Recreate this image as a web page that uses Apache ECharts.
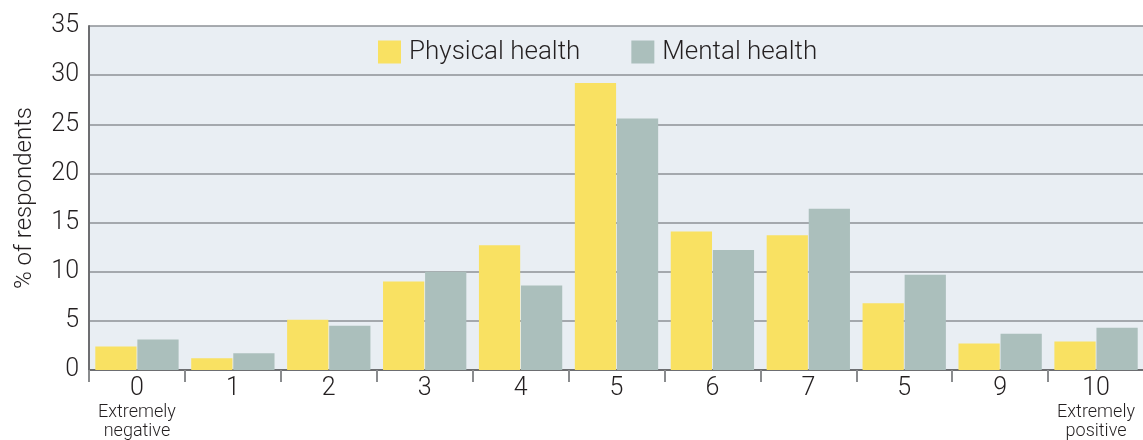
<!DOCTYPE html>
<html>
<head>
<meta charset="utf-8">
<title>Physical and mental health</title>
<script src="https://cdn.jsdelivr.net/npm/echarts@6/dist/echarts.min.js"></script>
<style>
  html, body { margin: 0; padding: 0; background: #fff; }
  #chart { width: 1143px; height: 440px; }
</style>
</head>
<body>
<div id="chart"></div>
<script>
// categories as printed on the original (the 9th label really reads "5")
const categories = ['0', '1', '2', '3', '4', '5', '6', '7', '5', '9', '10']
// extra text under the two end labels
const endNotes = { 0: ['Extremely', 'negative'], 10: ['Extremely', 'positive'] }
const physicalHealth = [2.4, 1.2, 5.1, 9.0, 12.7, 29.2, 14.1, 13.7, 6.8, 2.7, 2.9]
const mentalHealth = [3.1, 1.7, 4.5, 10.0, 8.6, 25.6, 12.2, 16.4, 9.7, 3.7, 4.3]
const yTicks = { min: 0, max: 35, step: 5 }

const textColor = '#231f20'
const fontFamily = 'Roboto, "Noto Sans", sans-serif'

const myChart = echarts.init(document.getElementById('chart'))

myChart.setOption({
  textStyle: { fontFamily: fontFamily },
  legend: {
    top: 39,
    left: 378,
    padding: 0,
    itemWidth: 23,
    itemHeight: 23,
    itemGap: 51,
    icon: 'rect',
    textStyle: { fontSize: 26, color: textColor, fontWeight: 300, padding: [3, 0, 0, 3] }
  },
  // 繪圖區域 - 不讓標籤把網格擠小
  grid: {
    left: 89,
    right: -1,
    top: 26,
    bottom: 70,
    outerBoundsMode: 'none',
    show: true,
    backgroundColor: '#e9eef3',
    borderWidth: 0
  },
  xAxis: {
    type: 'category',
    data: categories,
    axisLine: { lineStyle: { color: '#6d6e71', width: 2 } },
    axisTick: {
      show: true,
      interval: 0,
      length: 12,
      lineStyle: { color: '#8a8c8e', width: 2 }
    },
    axisLabel: {
      interval: 0,
      margin: 4,
      color: textColor,
      fontSize: 25,
      fontWeight: 300,
      lineHeight: 29,
      formatter: function (value, index) {
        const note = endNotes[index]
        if (!note) return value
        return value + '\n{s|' + note[0] + '}\n{s|' + note[1] + '}'
      },
      rich: {
        s: { fontSize: 18, lineHeight: 19, color: textColor, fontWeight: 300 }
      }
    }
  },
  yAxis: {
    type: 'value',
    min: yTicks.min,
    max: yTicks.max,
    interval: yTicks.step,
    name: '% of respondents',
    nameLocation: 'middle',
    nameRotate: 90,
    nameGap: 52,
    nameTextStyle: { fontSize: 24, color: textColor, fontWeight: 300 },
    axisLine: { show: true, lineStyle: { color: '#6d6e71', width: 2 } },
    axisTick: { show: false },
    axisLabel: { fontSize: 25, color: textColor, fontWeight: 300, margin: 10 },
    splitLine: { lineStyle: { color: '#8c9196', width: 1.5 } }
  },
  series: [
    {
      name: 'Physical health',
      type: 'bar',
      data: physicalHealth,
      barWidth: '43%',
      barGap: '2%',
      itemStyle: { color: '#f9e162' }
    },
    {
      name: 'Mental health',
      type: 'bar',
      data: mentalHealth,
      barWidth: '43%',
      itemStyle: { color: '#abbfbc' }
    }
  ]
})
</script>
</body>
</html>
